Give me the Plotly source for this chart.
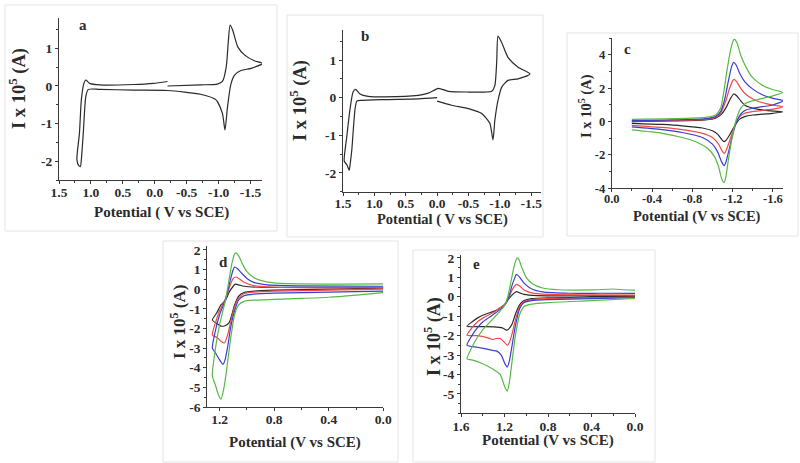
import plotly.graph_objects as go

# ---------------- data (potential V, current I x 1e5 A) ----------------
# panel a
a_V = [-0.2, -0.72, -0.98, -1.06, -1.12, -1.15, -1.18, -1.22, -1.30, -1.41, -1.56, -1.69,
       -1.51, -1.35, -1.25, -1.19, -1.14, -1.10, -1.06, -0.96, -0.72, -0.2, 0.33, 0.86, 1.04,
       1.08, 1.12, 1.15, 1.165, 1.19, 1.22,
       1.18, 1.15, 1.11, 1.08, 1.02, 0.86, 0.33, 0.02, -0.2]
a_I = [0.0, 0.03, 0.05, 0.12, 0.51, 1.13, 1.62, 1.49, 1.04, 0.82, 0.67, 0.6,
       0.47, 0.41, 0.29, 0.03, -0.55, -1.17, -0.73, -0.37, -0.22, -0.12, -0.11, -0.09, -0.09,
       -0.28, -1.26, -1.96, -2.14, -2.12, -1.96,
       -1.26, -0.37, 0.07, 0.16, 0.07, 0.03, 0.04, 0.07, 0.12]

# panel b
b_V = [0.0, 0.30, 0.83, 1.20, 1.28, 1.31, 1.36, 1.39, 1.40, 1.44, 1.48,
       1.44, 1.39, 1.34, 1.30, 1.23, 1.10, 0.83, 0.30, 0.14, -0.02, -0.18, -0.5, -0.76,
       -0.87, -0.92, -0.95, -0.97, -1.03, -1.13, -1.29, -1.48,
       -1.29, -1.13, -1.03, -0.97, -0.92, -0.89, -0.84, -0.71, -0.5, -0.23, 0.0]
b_I = [0.0, -0.03, -0.05, -0.07, -0.09, -0.33, -1.39, -1.82, -1.93, -1.78, -1.69,
       -1.04, -0.33, 0.15, 0.22, 0.10, 0.035, 0.02, 0.06, 0.12, 0.25, 0.17, 0.15, 0.15,
       0.17, 0.32, 0.98, 1.64, 1.46, 1.07, 0.81, 0.63,
       0.50, 0.46, 0.28, -0.07, -0.60, -1.12, -0.68, -0.42, -0.29, -0.20, -0.09]

# panel c  (scan -0.2 -> -1.7 -> -0.2)
c_black_V = [-0.2, -0.6, -0.93, -1.03, -1.09, -1.14, -1.18, -1.21, -1.24, -1.28, -1.33, -1.42, -1.55, -1.70,
             -1.6, -1.5, -1.4, -1.32, -1.27, -1.22, -1.17, -1.13, -1.115, -1.09, -1.05, -1.0, -0.9, -0.7, -0.5, -0.2]
c_black_I = [0.0, 0.04, 0.1, 0.2, 0.45, 0.9, 1.4, 1.66, 1.55, 1.25, 0.95, 0.78, 0.66, 0.58,
             0.5, 0.45, 0.4, 0.3, 0.15, -0.25, -0.8, -1.15, -1.2, -1.05, -0.75, -0.55, -0.38, -0.25, -0.17, -0.1]
c_red_V = [-0.2, -0.6, -0.93, -1.03, -1.08, -1.13, -1.17, -1.2, -1.215, -1.24, -1.28, -1.34, -1.42, -1.52, -1.62, -1.70,
           -1.6, -1.5, -1.4, -1.32, -1.27, -1.23, -1.19, -1.15, -1.12, -1.10, -1.06, -1.0, -0.9, -0.7, -0.5, -0.2]
c_red_I = [0.03, 0.07, 0.14, 0.25, 0.5, 1.2, 2.0, 2.45, 2.54, 2.4, 2.0, 1.6, 1.3, 1.1, 0.97, 0.9,
           0.75, 0.68, 0.6, 0.5, 0.3, -0.1, -0.8, -1.5, -1.9, -1.8, -1.35, -0.95, -0.7, -0.48, -0.35, -0.22]
c_blue_V = [-0.2, -0.6, -0.93, -1.03, -1.08, -1.12, -1.16, -1.19, -1.21, -1.235, -1.27, -1.32, -1.40, -1.50, -1.60, -1.70,
            -1.60, -1.50, -1.40, -1.33, -1.28, -1.24, -1.20, -1.16, -1.13, -1.115, -1.09, -1.05, -1.0, -0.9, -0.7, -0.5, -0.2]
c_blue_I = [0.06, 0.1, 0.18, 0.3, 0.6, 1.3, 2.5, 3.3, 3.56, 3.4, 2.9, 2.4, 1.95, 1.6, 1.4, 1.26,
            1.0, 0.9, 0.8, 0.7, 0.45, 0.0, -0.8, -1.8, -2.5, -2.64, -2.4, -1.8, -1.35, -0.95, -0.65, -0.48, -0.32]
c_green_V = [-0.2, -0.6, -0.93, -1.03, -1.08, -1.11, -1.145, -1.18, -1.21, -1.22, -1.245, -1.28, -1.33, -1.39, -1.49, -1.59, -1.70,
             -1.60, -1.50, -1.40, -1.33, -1.28, -1.24, -1.20, -1.16, -1.13, -1.115, -1.09, -1.06, -1.02, -0.95, -0.85, -0.7, -0.5, -0.2]
c_green_I = [0.14, 0.18, 0.26, 0.4, 0.8, 1.7, 3.1, 4.3, 4.9, 4.94, 4.7, 4.0, 3.3, 2.7, 2.2, 1.94, 1.75,
             1.55, 1.4, 1.25, 1.1, 0.8, 0.2, -0.8, -2.2, -3.4, -3.66, -3.4, -2.7, -2.1, -1.6, -1.25, -0.95, -0.7, -0.5]

# panel d  (scan 0.0 -> 1.25 -> 0.0)
d_black_V = [0.0, 0.4, 0.8, 0.95, 1.02, 1.06, 1.09, 1.11, 1.13, 1.16, 1.19, 1.22, 1.253,
             1.22, 1.19, 1.155, 1.13, 1.10, 1.085, 1.06, 1.02, 0.9, 0.5, 0.0]
d_black_I = [0.05, 0.0, -0.05, -0.1, -0.17, -0.35, -0.8, -1.3, -1.7, -1.86, -1.88, -1.75, -1.57,
             -1.2, -0.8, -0.55, -0.15, 0.15, 0.26, 0.22, 0.15, 0.1, 0.1, 0.1]
d_red_V = [0.0, 0.4, 0.8, 0.95, 1.02, 1.06, 1.09, 1.12, 1.14, 1.165, 1.19, 1.22, 1.253,
           1.23, 1.20, 1.155, 1.12, 1.10, 1.085, 1.06, 1.02, 0.95, 0.8, 0.4, 0.0]
d_red_I = [0.0, -0.05, -0.1, -0.15, -0.22, -0.45, -0.9, -1.7, -2.3, -2.74, -2.65, -2.45, -2.34,
           -1.7, -1.1, -0.45, 0.25, 0.55, 0.62, 0.55, 0.35, 0.18, 0.1, 0.07, 0.08]
d_blue_V = [0.0, 0.4, 0.8, 0.95, 1.02, 1.06, 1.09, 1.12, 1.14, 1.16, 1.175, 1.20, 1.23, 1.253,
            1.23, 1.20, 1.155, 1.12, 1.10, 1.09, 1.07, 1.03, 1.0, 0.95, 0.85, 0.6, 0.0]
d_blue_I = [-0.1, -0.15, -0.2, -0.25, -0.33, -0.55, -1.1, -2.0, -2.9, -3.6, -3.83, -3.6, -3.25, -3.0,
            -2.1, -1.3, -0.5, 0.5, 1.0, 1.13, 1.05, 0.75, 0.55, 0.35, 0.22, 0.17, 0.15]
d_green_V = [0.0, 0.2, 0.4, 0.6, 0.8, 0.95, 1.02, 1.06, 1.09, 1.11, 1.13, 1.15, 1.17, 1.19, 1.21, 1.23, 1.253,
             1.23, 1.20, 1.155, 1.13, 1.11, 1.09, 1.08, 1.06, 1.03, 1.0, 0.95, 0.9, 0.8, 0.6, 0.3, 0.0]
d_green_I = [-0.17, -0.3, -0.41, -0.47, -0.52, -0.56, -0.62, -0.8, -1.3, -2.1, -3.1, -4.2, -5.1, -5.6, -5.35, -4.9, -4.4,
             -3.0, -1.8, -0.5, 0.5, 1.3, 1.8, 1.85, 1.7, 1.25, 0.9, 0.6, 0.45, 0.32, 0.27, 0.26, 0.27]

# panel e  (scan 0.0 -> 1.55 -> 0.0)
e_black_V = [0.0, 0.4, 0.8, 0.95, 1.02, 1.06, 1.10, 1.13, 1.16, 1.18, 1.22, 1.3, 1.4, 1.545,
             1.5, 1.45, 1.4, 1.35, 1.3, 1.25, 1.2, 1.16, 1.12, 1.09, 1.06, 1.02, 0.9, 0.5, 0.0]
e_black_I = [0.0, -0.02, -0.05, -0.1, -0.2, -0.4, -0.9, -1.4, -1.65, -1.72, -1.6, -1.55, -1.54, -1.52,
             -1.3, -1.1, -0.95, -0.85, -0.75, -0.62, -0.42, -0.1, 0.15, 0.26, 0.2, 0.12, 0.06, 0.05, 0.05]
e_red_V = [0.0, 0.4, 0.8, 0.95, 1.02, 1.06, 1.10, 1.13, 1.155, 1.175, 1.20, 1.24, 1.28, 1.31, 1.36, 1.45, 1.545,
           1.5, 1.45, 1.4, 1.35, 1.3, 1.25, 1.2, 1.16, 1.13, 1.10, 1.09, 1.06, 1.02, 0.95, 0.8, 0.4, 0.0]
e_red_I = [-0.02, -0.06, -0.1, -0.15, -0.25, -0.5, -1.2, -1.9, -2.35, -2.5, -2.35, -2.15, -2.15, -2.2, -2.1, -2.0, -1.98,
           -1.6, -1.3, -1.1, -0.95, -0.8, -0.6, -0.4, -0.05, 0.35, 0.6, 0.64, 0.55, 0.35, 0.2, 0.12, 0.1, 0.09]
e_blue_V = [0.0, 0.4, 0.8, 0.95, 1.02, 1.06, 1.10, 1.13, 1.155, 1.175, 1.20, 1.23, 1.27, 1.31, 1.36, 1.45, 1.545,
            1.5, 1.45, 1.4, 1.35, 1.3, 1.25, 1.2, 1.16, 1.13, 1.10, 1.09, 1.06, 1.02, 0.95, 0.85, 0.6, 0.3, 0.0]
e_blue_I = [-0.05, -0.1, -0.15, -0.2, -0.3, -0.6, -1.5, -2.5, -3.3, -3.62, -3.4, -3.0, -2.8, -2.76, -2.7, -2.6, -2.5,
            -2.0, -1.6, -1.3, -1.1, -0.9, -0.7, -0.45, 0.0, 0.6, 1.05, 1.16, 1.0, 0.7, 0.4, 0.25, 0.18, 0.18, 0.17]
e_green_V = [0.0, 0.4, 0.8, 0.95, 1.02, 1.06, 1.10, 1.13, 1.155, 1.175, 1.20, 1.24, 1.3, 1.4, 1.5, 1.545,
             1.5, 1.45, 1.4, 1.35, 1.3, 1.25, 1.2, 1.17, 1.14, 1.11, 1.085, 1.07, 1.04, 1.0, 0.95, 0.85, 0.7, 0.4, 0.2, 0.1, 0.0]
e_green_I = [-0.09, -0.2, -0.3, -0.38, -0.5, -0.9, -2.0, -3.3, -4.4, -4.86, -4.6, -4.0, -3.75, -3.45, -3.25, -3.2,
             -2.6, -2.1, -1.7, -1.4, -1.1, -0.8, -0.45, 0.0, 0.8, 1.6, 2.0, 1.95, 1.5, 1.0, 0.7, 0.45, 0.36, 0.35, 0.4, 0.36, 0.34]

# tick labels
ab_xticks = [1.5, 1.0, 0.5, 0.0, -0.5, -1.0, -1.5]
ab_xlabels = ["1.5", "1.0", "0.5", "0.0", "-0.5", "-1.0", "-1.5"]
ab_yticks = [-2, -1, 0, 1]
ab_ylabels = ["-2", "-1", "0", "1"]
c_xticks = [0.0, -0.4, -0.8, -1.2, -1.6]
c_xlabels = ["0.0", "-0.4", "-0.8", "-1.2", "-1.6"]
c_yticks = [-4, -2, 0, 2, 4]
c_ylabels = ["-4", "-2", "0", "2", "4"]
d_xticks = [1.2, 0.8, 0.4, 0.0]
d_xlabels = ["1.2", "0.8", "0.4", "0.0"]
d_yticks = [-6, -5, -4, -3, -2, -1, 0, 1, 2]
d_ylabels = ["-6", "-5", "-4", "-3", "-2", "-1", "0", "1", "2"]
e_xticks = [1.6, 1.2, 0.8, 0.4, 0.0]
e_xlabels = ["1.6", "1.2", "0.8", "0.4", "0.0"]
e_yticks = [-5, -4, -3, -2, -1, 0, 1, 2]
e_ylabels = ["-5", "-4", "-3", "-2", "-1", "0", "1", "2"]

# ---------------- styling ----------------
W, H = 800, 463
FONT = "Liberation Serif"
TXT = "#2b2b2b"
COL = {"black": "#2a2a2a", "red": "#f24848", "blue": "#3c3cd2", "green": "#55bb44"}


def xd(px):
    return px / W


def yd(py):
    return 1 - py / H


fig = go.Figure()


def add(V, I, color, ax):
    fig.add_trace(go.Scatter(x=V, y=I, mode="lines",
                             line=dict(color=color, width=1.2, shape="spline", smoothing=0.6),
                             xaxis="x" + ax, yaxis="y" + ax, showlegend=False, hoverinfo="skip"))


add(a_V, a_I, COL["black"], "")
add(b_V, b_I, COL["black"], "2")
for name, V, I in [("black", c_black_V, c_black_I), ("red", c_red_V, c_red_I),
                   ("blue", c_blue_V, c_blue_I), ("green", c_green_V, c_green_I)]:
    add(V, I, COL[name], "3")
for name, V, I in [("black", d_black_V, d_black_I), ("red", d_red_V, d_red_I),
                   ("blue", d_blue_V, d_blue_I), ("green", d_green_V, d_green_I)]:
    add(V, I, COL[name], "4")
for name, V, I in [("black", e_black_V, e_black_I), ("red", e_red_V, e_red_I),
                   ("blue", e_blue_V, e_blue_I), ("green", e_green_V, e_green_I)]:
    add(V, I, COL[name], "5")


def axis(dom, rng, tv, tt, anchor, minor_dtick, is_x, fsize, standoff):
    return dict(domain=dom, range=rng, autorange=False, tickmode="array", tickvals=tv, ticktext=tt,
                showline=True, linecolor="#3a3a3a", linewidth=1, ticks="outside", ticklen=3,
                tickcolor="#3a3a3a", showgrid=False, zeroline=False,
                tickfont=dict(family=FONT, size=fsize, color=TXT, weight="bold"),
                ticklabelstandoff=standoff if is_x else 0,
                anchor=anchor, fixedrange=True, automargin=False,
                minor=dict(ticks="outside", ticklen=2, tickcolor="#3a3a3a", tickmode="linear",
                           dtick=minor_dtick, tick0=0, showgrid=False))


panels = [
    # suffix, x px domain, y px domain (top, bottom), xrange, yrange, ticks, minor steps, font, standoff
    ("", (59, 262), (18.3, 180), [1.5, -1.68], [-2.5, 1.8], ab_xticks, ab_xlabels, ab_yticks, ab_ylabels, 0.25, 0.5, 13.5, -3),
    ("2", (343, 541.3), (30, 191.7), [1.5, -1.66], [-2.5, 1.8], ab_xticks, ab_xlabels, ab_yticks, ab_ylabels, 0.25, 0.5, 13.5, -4),
    ("3", (611.7, 783), (38.3, 188.3), [0.0, -1.7], [-4, 5], c_xticks, c_xlabels, c_yticks, c_ylabels, 0.2, 1, 12.5, -4),
    ("4", (207.3, 383.3), (246, 407), [1.29, 0.0], [-6, 2.2], d_xticks, d_xlabels, d_yticks, d_ylabels, 0.2, 0.5, 13.5, -3),
    ("5", (461, 635), (255, 413.3), [1.6, 0.0], [-6, 2.15], e_xticks, e_xlabels, e_yticks, e_ylabels, 0.2, 0.5, 13.5, -3),
]

lay = {}
for suf, xp, yp, xr, yr, xt, xl, yt, yl, mx, my, fs, so in panels:
    lay["xaxis" + suf] = axis([xd(xp[0]), xd(xp[1])], xr, xt, xl, "y" + suf, mx, True, fs, so)
    lay["yaxis" + suf] = axis([yd(yp[1]), yd(yp[0])], yr, yt, yl, "x" + suf, my, False, fs, so)

fig.update_layout(**lay)

# panel frames
frames = [(5, 5, 277, 231), (287, 15, 543, 237), (567, 33, 798, 236), (163, 241, 398, 462), (413, 250, 655, 462)]
shapes = []
for x0, y0, x1, y1 in frames:
    shapes.append(dict(type="rect", xref="paper", yref="paper", x0=xd(x0), x1=xd(x1), y0=yd(y1), y1=yd(y0),
                       line=dict(color="#e4e4e4", width=1), layer="below"))

ann = []


def note(text, px, py, size, angle=0):
    ann.append(dict(text=text, x=xd(px), y=yd(py), xref="paper", yref="paper", showarrow=False,
                    xanchor="center", yanchor="middle", textangle=angle,
                    font=dict(family=FONT, size=size, color=TXT, weight="bold")))


# panel letters
for lab, px, py in [("a", 83, 25), ("b", 365, 36), ("c", 627, 49), ("d", 223, 262), ("e", 477, 264)]:
    note(lab, px, py, 15)
# x titles
for txt, px, py, sz in [("Potential ( V vs SCE)", 161, 213, 15), ("Potential ( V vs SCE)", 442, 219.5, 14.5),
                        ("Potential (V vs SCE)", 697, 216, 14.5), ("Potential (V vs SCE)", 295, 442, 15),
                        ("Potential (V vs SCE)", 548, 440, 15)]:
    note(txt, px, py, sz)
# y titles
for px, py, sz in [(17, 89, 18.5), (298, 101, 18.5), (585, 106, 14.5), (178, 322, 17), (433, 337, 18)]:
    note("I x 10<sup>5</sup> (A)", px, py, sz, -90)

fig.update_layout(width=W, height=H, margin=dict(l=0, r=0, t=0, b=0), paper_bgcolor="white",
                  plot_bgcolor="white", shapes=shapes, annotations=ann, showlegend=False)

fig.write_html("out.html", config={"displayModeBar": False},
               post_script="document.body.style.margin='0px';")
